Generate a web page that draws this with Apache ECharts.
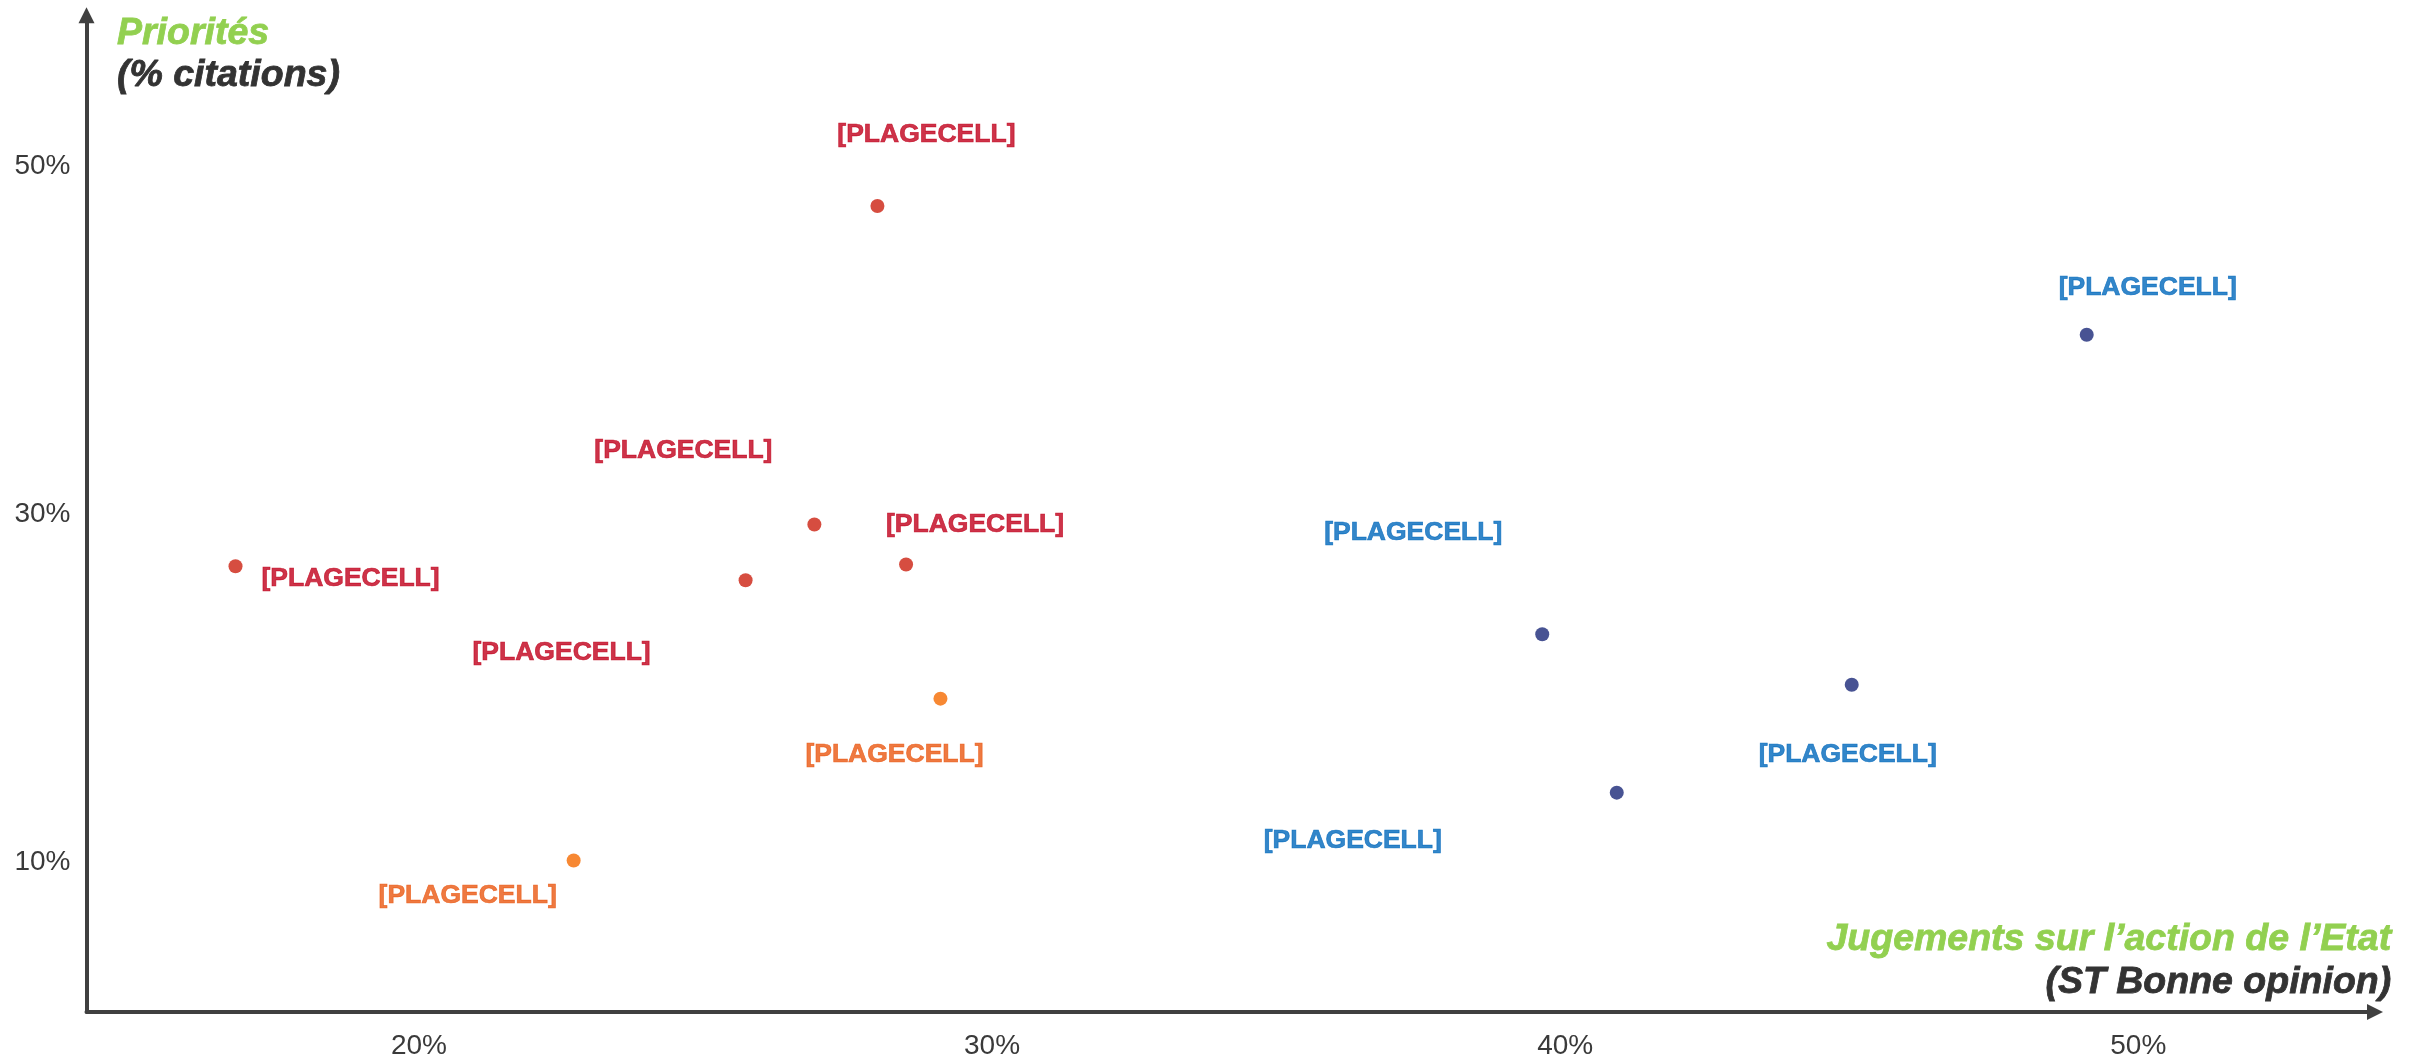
<!DOCTYPE html>
<html>
<head>
<meta charset="utf-8">
<title>Priorités et jugements sur l’action de l’Etat</title>
<script src="https://cdn.jsdelivr.net/npm/echarts@6/dist/echarts.min.js"></script>
<style>
  html, body { margin: 0; padding: 0; background: #ffffff; }
  #chart { width: 2423px; height: 1061px; }
</style>
</head>
<body>
<div id="chart"></div>
<script>
// Point labels (placeholder cell references)
const redNames    = ['[PLAGECELL]', '[PLAGECELL]', '[PLAGECELL]', '[PLAGECELL]', '[PLAGECELL]'];
const orangeNames = ['[PLAGECELL]', '[PLAGECELL]'];
const navyNames   = ['[PLAGECELL]', '[PLAGECELL]', '[PLAGECELL]', '[PLAGECELL]'];

// Jugements sur l'action de l'Etat (ST Bonne opinion, %)
const redX    = [28.0, 26.9, 28.5, 25.7, 16.8];
const orangeX = [29.1, 22.7];
const navyX   = [49.1, 39.6, 45.0, 40.9];

// Priorités (% citations)
const redY    = [47.7, 29.4, 27.1, 26.2, 27.0];
const orangeY = [19.4, 10.1];
const navyY   = [40.3, 23.1, 20.2, 14.0];

// Tick labels
const xTicks = [20, 30, 40, 50];
const yTicks = [10, 30, 50];

// Label placement relative to each point, in pixels
const redLabelOffsets    = [[49, -71], [-131, -74], [69, -40], [-184, 72], [115, 12]];
const orangeLabelOffsets = [[-46, 56], [-106, 35]];
const navyLabelOffsets   = [[61, -47], [-129, -102], [-4, 70], [-264, 48]];

const FONT = '"Liberation Sans", Arial, Helvetica, sans-serif';

function buildData(xs, ys, names, offsets) {
  return xs.map((x, i) => ({
    name: names[i],
    value: [x, ys[i]],
    label: { offset: offsets[i] }
  }));
}

function scatter(name, xs, ys, names, offsets, dotColor, labelColor) {
  return {
    name: name,
    type: 'scatter',
    symbol: 'circle',
    symbolSize: 14,
    itemStyle: { color: dotColor },
    label: {
      show: true,
      position: 'inside',
      formatter: '{b}',
      color: labelColor,
      textBorderColor: labelColor,
      textBorderWidth: 0.7,
      fontFamily: FONT,
      fontSize: 26.5,
      fontWeight: 'bold'
    },
    emphasis: { disabled: true },
    data: buildData(xs, ys, names, offsets)
  };
}

const axisLineStyle = { color: '#404040', width: 4 };

function titleItem(text, pos, color) {
  return Object.assign({
    text: text,
    padding: 0,
    textStyle: {
      fontFamily: FONT, fontSize: 37.5, fontWeight: 'bold', fontStyle: 'italic',
      color: color, textBorderColor: color, textBorderWidth: 0.8
    }
  }, pos);
}

const option = {
  backgroundColor: '#ffffff',
  animation: false,
  title: [
    titleItem('Priorités', { left: 117, top: 15 }, '#92D050'),
    titleItem('(% citations)', { left: 117, top: 57 }, '#333333'),
    titleItem('Jugements sur l’action de l’Etat', { right: 31, top: 921 }, '#92D050'),
    titleItem('(ST Bonne opinion)', { right: 31, top: 964 }, '#333333')
  ],
  grid: { left: 86.5, right: 48, top: 15.3, bottom: 49, containLabel: false },
  xAxis: {
    type: 'value',
    min: 14.2,
    max: 54.13,
    axisLine: { show: true, lineStyle: axisLineStyle, symbol: ['none', 'triangle'], symbolSize: [16, 16] },
    axisTick: { show: false },
    splitLine: { show: false },
    axisLabel: {
      customValues: xTicks,
      formatter: v => v + '%',
      margin: 20,
      color: '#3a3a3a',
      fontFamily: FONT,
      fontSize: 28
    }
  },
  yAxis: {
    type: 'value',
    min: 1.4,
    max: 58.65,
    axisLine: { show: true, lineStyle: axisLineStyle, symbol: ['none', 'triangle'], symbolSize: [16, 16] },
    axisTick: { show: false },
    splitLine: { show: false },
    axisLabel: {
      customValues: yTicks,
      formatter: v => v + '%',
      margin: 16,
      color: '#3a3a3a',
      fontFamily: FONT,
      fontSize: 28
    }
  },
  series: [
    scatter('rouge', redX, redY, redNames, redLabelOffsets, '#CC2010', '#C0001C'),
    scatter('orange', orangeX, orangeY, orangeNames, orangeLabelOffsets, '#F56A00', '#EA5812'),
    scatter('bleu', navyX, navyY, navyNames, navyLabelOffsets, '#1A2878', '#0068BC')
  ]
};

const chart = echarts.init(document.getElementById('chart'), null, { renderer: 'canvas' });
chart.setOption(option);
</script>
</body>
</html>
